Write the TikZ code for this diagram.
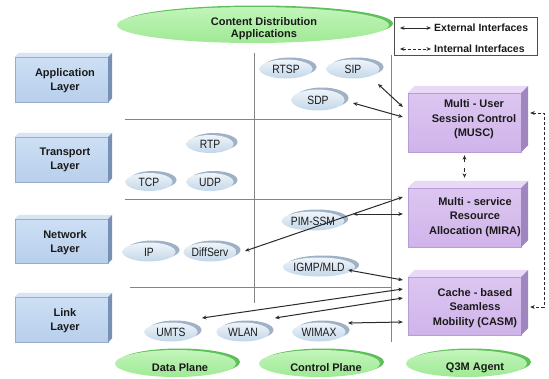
\documentclass[tikz,border=0pt]{standalone}
\usepackage{fontspec}
\setmainfont{Liberation Sans}
\newfontfamily\protofont[FakeStretch=0.86]{Liberation Sans}
\usetikzlibrary{arrows.meta,shapes.geometric,shadows}
\definecolor{txt}{HTML}{1A1A1A}
\definecolor{layTop}{HTML}{CCDFF4}
\definecolor{layBot}{HTML}{B8CFEB}
\definecolor{layBev}{HTML}{D8E5F5}
\definecolor{laySide}{HTML}{7890B2}
\definecolor{layEdge}{HTML}{97AECB}
\definecolor{purTop}{HTML}{DDC6F1}
\definecolor{purBot}{HTML}{CFB4EA}
\definecolor{purBev}{HTML}{E8D9F6}
\definecolor{purSide}{HTML}{A086BE}
\definecolor{purEdge}{HTML}{B79DD5}
\definecolor{gTop}{HTML}{C2F5BA}
\definecolor{gBot}{HTML}{9FE995}
\definecolor{gRim}{HTML}{5EC05A}
\definecolor{prTop}{HTML}{EEF4FA}
\definecolor{prBot}{HTML}{C3D7E9}
\definecolor{prRim}{HTML}{A0B1C5}
\definecolor{gridc}{HTML}{858585}
\definecolor{arrC}{HTML}{2A2A2A}
\definecolor{legC}{HTML}{505050}
\newcommand{\mkbevel}[4]{%
  \fill[#3] (#1.north west) -- ++(#2,-#2) -- ([shift={(#2,-#2)}]#1.north east) -- (#1.north east) -- cycle;
  \fill[#4] (#1.north east) -- ([shift={(#2,-#2)}]#1.north east) -- ([shift={(#2,-#2)}]#1.south east) -- (#1.south east) -- cycle;
}
\begin{document}
\begin{tikzpicture}[x=1pt,y=-1pt,
  lbl/.style={font=\bfseries\fontsize{11}{14.5}\selectfont, align=center, text=txt, inner sep=0pt},
  lgt/.style={font=\bfseries\fontsize{10.5}{12}\selectfont, text=txt, inner sep=0pt},
  layerbox/.style={rectangle, minimum width=93pt, minimum height=45pt, inner sep=0pt,
    top color=layTop, bottom color=layBot, draw=layEdge, line width=0.4pt},
  purbox/.style={rectangle, minimum width=113pt, minimum height=59pt, inner sep=0pt,
    top color=purTop, bottom color=purBot, draw=purEdge, line width=0.4pt},
  proto/.style={ellipse, minimum width=53pt, minimum height=19pt, inner sep=0pt,
    top color=prTop, bottom color=prBot,
    drop shadow={shadow xshift=4pt, shadow yshift=2pt, fill=prRim, opacity=1},
    font=\protofont\fontsize{12}{13}\selectfont, text=txt},
  protos/.style={proto, minimum width=47pt, minimum height=18pt},
  greenE/.style={ellipse, inner sep=0pt, top color=gTop, bottom color=gBot,
    drop shadow={shadow xshift=4pt, shadow yshift=1.5pt, fill=gRim, opacity=1}},
  gridl/.style={draw=gridc, line width=0.8pt},
  ext/.style={arrows={Stealth[length=4.5pt,width=3.8pt]-Stealth[length=4.5pt,width=3.8pt]}, draw=arrC, line width=1pt},
  intl/.style={ext, dash pattern=on 3pt off 2pt}
]
\useasboundingbox (0,0) rectangle (549,378);
\fill[white] (0,0) rectangle (549,378);

% grid lines
\draw[gridl] (125,119) -- (391,119);
\draw[gridl] (125,199) -- (391,199);
\draw[gridl] (130,287) -- (391,287);
\draw[gridl] (254,53) -- (254,303);
\draw[gridl] (391,55) -- (391,342);

% top ellipse
\node[greenE, minimum width=272pt, minimum height=36pt] (cdaE) at (253,25) {};
\node[lbl, font=\bfseries\fontsize{11}{12}\selectfont] (cdaT) at (264,29) {Content Distribution\\Applications};

% legend
\node[draw=legC, line width=0.9pt, minimum width=143pt, minimum height=38pt, inner sep=0pt] (legend) at (465.5,36) {};
\node[lgt, anchor=west] (extT) at (434,28) {External Interfaces};
\node[lgt, anchor=west] (intT) at (434,49) {Internal Interfaces};
\coordinate (extA) at (400,28);
\coordinate (intA) at (400,49);
\draw[ext, shorten >=3pt] (extA) -- (extT.west);
\draw[intl, shorten >=3pt] (intA) -- (intT.west);

% layer boxes
\node[layerbox] (appL) at (61.5,79.5) {};
\node[layerbox] (traL) at (61.5,159.5) {};
\node[layerbox, minimum height=44pt] (netL) at (61.5,241) {};
\node[layerbox] (linL) at (61.5,319.5) {};
\mkbevel{appL}{4}{layBev}{laySide}
\mkbevel{traL}{4}{layBev}{laySide}
\mkbevel{netL}{4}{layBev}{laySide}
\mkbevel{linL}{4}{layBev}{laySide}
\node[lbl] (appT) at (65,80.5) {Application\\Layer};
\node[lbl] (traT) at (65,160) {Transport\\Layer};
\node[lbl] (netT) at (65,242.5) {Network\\Layer};
\node[lbl] (linT) at (65,320.5) {Link\\Layer};

% Q3M boxes
\node[purbox] (musc) at (464.5,122.5) {};
\node[purbox] (mira) at (464.5,217.5) {};
\node[purbox, minimum height=58pt] (casm) at (464.5,306) {};
\mkbevel{musc}{7}{purBev}{purSide}
\mkbevel{mira}{7}{purBev}{purSide}
\mkbevel{casm}{7}{purBev}{purSide}
\node[lbl] (muscT) at (474,119.5) {Multi - User\\Session Control\\(MUSC)};
\node[lbl] (miraT) at (475,217) {Multi - service\\Resource\\Allocation (MIRA)};
\node[lbl] (casmT) at (475,308) {Cache - based\\Seamless\\Mobility (CASM)};

% protocols
\node[proto] (rtsp) at (286,69) {RTSP};
\node[proto] (sip) at (353,69) {SIP};
\node[proto, minimum height=21pt] (sdp) at (318,100) {SDP};
\node[protos] (rtp) at (210,144) {RTP};
\node[protos] (tcp) at (149,182) {TCP};
\node[protos] (udp) at (210,182) {UDP};
\node[proto] (ip) at (149,252) {IP};
\node[proto] (diffserv) at (210,252) {DiffServ};
\node[proto] (pim) at (313,221) {PIM-SSM};
\node[proto] (igmp) at (319,267) {IGMP/MLD};
\node[proto] (umts) at (171,332) {UMTS};
\node[proto] (wlan) at (243,332) {WLAN};
\node[proto] (wimax) at (319,332) {WIMAX};

% bottom planes
\node[greenE, minimum width=121pt, minimum height=27pt] (dpE) at (175.5,363.5) {};
\node[greenE, minimum width=121pt, minimum height=27pt] (cpE) at (319.5,363.5) {};
\node[greenE, minimum width=121pt, minimum height=27pt] (qaE) at (466.5,363.5) {};
\node[lbl] (dpT) at (180,368) {Data Plane};
\node[lbl] (cpT) at (326,368) {Control Plane};
\node[lbl] (qaT) at (475,368) {Q3M Agent};

% external interfaces
\draw[ext] ([shift={(25,15)}]sip.center) -- ([shift={(-5,-15.5)}]musc.west);
\draw[ext] ([shift={(35,3)}]sdp.center) -- ([shift={(-5,-5.5)}]musc.west);
\draw[ext] ([shift={(40,-7)}]pim.center) -- ([shift={(-5,-3.5)}]mira.west);
\draw[ext] ([shift={(35,-1)}]diffserv.center) -- ([shift={(-5,-20.5)}]mira.west);
\draw[ext] ([shift={(29,3)}]igmp.center) -- ([shift={(-5,-26)}]casm.west);
\draw[ext] ([shift={(31,-14)}]umts.center) -- ([shift={(-5,-17)}]casm.west);
\draw[ext] ([shift={(32,-14)}]wlan.center) -- ([shift={(-5,-8)}]casm.west);
\draw[ext] ([shift={(29,-9)}]wimax.center) -- ([shift={(-5,16)}]casm.west);

% internal interfaces
\draw[intl, dash pattern=on 4pt off 6pt] ([shift={(0,3)}]musc.south) -- ([shift={(0,-10)}]mira.north);
\coordinate (rtop) at (544,113);
\coordinate (rbot) at (544,307);
\draw[intl] ([shift={(9,-9.5)}]musc.east) -- (rtop) -- (rbot) -- ([shift={(9,1)}]casm.east);
\end{tikzpicture}
\end{document}
